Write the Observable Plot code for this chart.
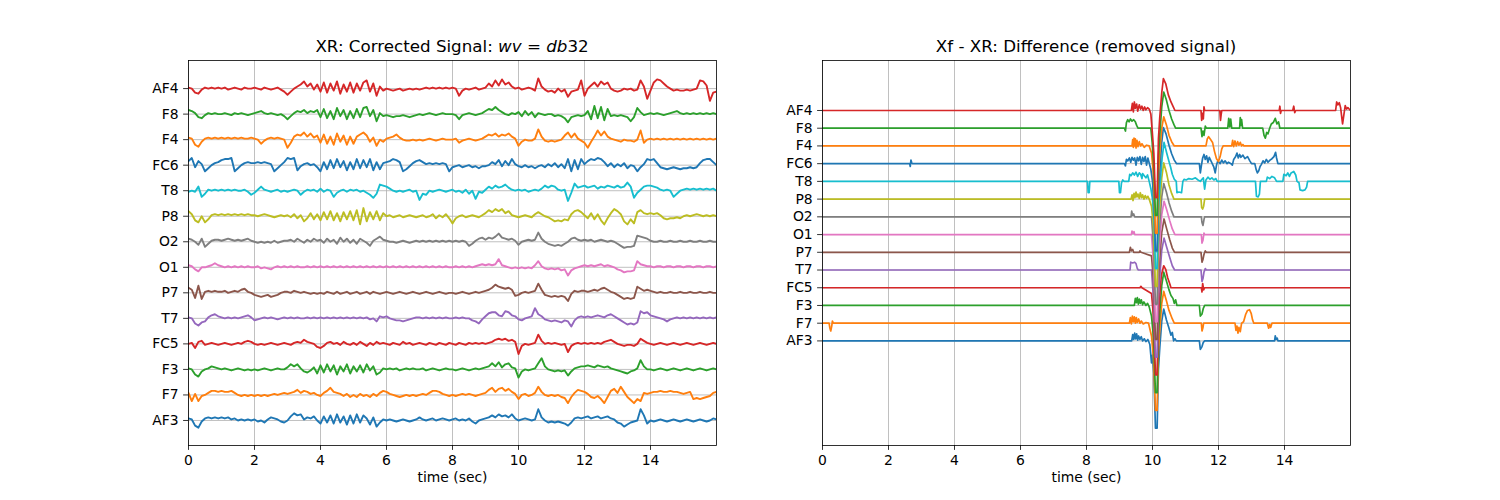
<!DOCTYPE html>
<html>
<head>
<meta charset="utf-8">
<script src="https://cdn.jsdelivr.net/npm/d3@7"></script>
<script src="https://cdn.jsdelivr.net/npm/@observablehq/plot@0.6"></script>
<style>
  body { margin: 0; background: white; }
  #wrap { display: flex; width: 1500px; height: 500px; }
</style>
</head>
<body>
<div id="wrap"></div>
<script>
// ---- Channels (bottom to top) ----
const names = ["AF3","F7","F3","FC5","T7","P7","O1","O2","P8","T8","FC6","F4","F8","AF4"];
const colors = ["#1f77b4","#ff7f0e","#2ca02c","#d62728","#9467bd","#8c564b","#e377c2","#7f7f7f","#bcbd22","#17becf","#1f77b4","#ff7f0e","#2ca02c","#d62728"];
const offsetStep = 25;
const xTicks = [0, 2, 4, 6, 8, 10, 12, 14];
const dt = 0.1; // sample spacing (sec) of the corrected-signal readings

// ---- Left panel: corrected signal, one reading every 0.1 s ----
const corrAF3 = [2,1,-5,-7,-1,2,3,2,3,2, 3,2,3,1,2,0,1,0,1,0, 1,-1,0,-2,1,3,2,1,-1,-2, 0,4,7,5,6,1,3,2,4,0, -3,4,-2,5,-3,6,-2,4,-4,5, -3,6,-2,5,2,-4,3,-6,-2,1, 0,1,0,-1,0,1,0,-1,0,1, 3,1,0,1,2,0,1,2,1,0, 1,2,0,1,0,2,-1,-3,0,1, 2,3,5,3,6,4,5,3,6,2, 0,1,2,1,0,1,11,3,0,-2, -1,-2,-1,-2,-3,-5,-2,2,3,2, 3,4,2,3,4,2,3,4,2,1, -2,-3,-6,-4,-2,-1,0,11,5,-3, 0,-1,0,1,0,-1,0,1,0,-1, 0,1,0,-1,0,1,0,-1,0,2,1];
const corrF7 = [2,-6,1,-6,-1,0,2,4,4,3, 4,3,3,4,2,0,-1,0,-1,0, -1,0,-1,0,-1,0,1,0,1,2, 1,2,3,5,2,4,3,1,2,0, -1,2,4,7,3,2,1,-1,1,-2, 0,-2,1,-1,0,-2,1,-1,2,4, 3,1,0,-1,-2,-1,0,-1,0,-1, 0,1,0,2,4,4,3,1,0,-1, 0,-1,0,1,0,1,0,-1,0,1, 2,5,7,3,6,7,4,6,3,1, -4,0,1,-1,0,2,8,3,0,-1, 0,-1,0,-2,-3,-8,-2,2,5,4, 3,1,-2,-3,-1,-4,-8,-2,4,6, 2,8,3,-2,-5,-8,-4,-6,2,1, 2,3,3,4,3,3,4,3,3,2, 1,2,3,-4,-3,-4,-3,-2,-1,2,3];
const corrF3 = [1,0,-5,-7,-2,0,1,3,2,1, 0,1,0,-1,0,1,0,-1,0,-1, 0,-1,0,1,0,-1,0,1,0,0, 2,5,3,5,1,-2,-3,-1,2,-4, 4,-3,5,-2,4,-5,3,-2,5,-4, 3,-2,4,-3,5,-1,3,-5,-3,1, 0,1,0,1,-1,0,1,0,1,0, 0,1,-1,0,1,0,-1,0,1,0, 0,-1,0,1,0,-1,0,1,0,1, 2,3,6,3,7,2,5,6,2,1, -8,-2,0,-1,0,1,6,11,3,0, -1,-2,-1,-2,-1,-6,-2,1,2,3, 3,4,3,2,4,3,2,3,1,0, -1,-2,-3,-4,-2,-1,1,9,3,0, 0,-1,0,1,0,-1,0,1,0,-1, 0,1,0,-1,0,1,0,-1,0,1,0];
const corrFC5 = [0,1,-4,2,3,-1,0,1,0,-1, 0,1,0,-1,0,1,0,2,3,2, 0,-1,0,-1,0,1,0,-1,0,1, 0,-1,1,2,1,4,2,1,0,-3, -4,-2,1,2,0,1,-1,2,0,-1, 1,-1,2,0,-2,1,-1,2,0,1, 0,-1,1,0,-1,2,0,1,-1,0, 1,0,-1,1,0,-1,1,0,-1,1, 0,-1,1,0,-1,1,0,1,0,1, 0,1,2,4,5,4,5,3,4,2, -10,-2,0,-1,0,1,9,3,0,1, 0,1,0,-1,0,-8,-2,0,1,0, 1,0,1,0,1,0,2,3,4,2, 0,-1,-2,-1,-1,-2,0,5,3,1, 0,-1,0,1,0,-1,0,1,0,-1, 0,1,0,-1,0,1,0,-1,0,1,0];
const corrT7 = [1,0,-5,-7,-4,-3,1,3,4,2, 1,0,1,0,1,0,1,2,3,1, -2,-1,0,1,0,1,0,-1,0,1, 0,1,0,1,0,0,1,0,1,0, 1,0,1,0,1,0,1,0,1,0, 1,0,1,0,1,-1,0,-3,2,1, 2,0,-1,-2,-2,-3,-2,-1,0,1, 1,0,1,0,1,0,1,0,1,0, 0,1,0,1,0,0,-2,-3,-5,-1, 2,5,6,6,3,2,7,6,3,2, -1,-2,0,1,2,10,4,2,-1,-2, -3,-2,-3,-4,-2,-3,-8,-2,1,2, 1,2,1,2,3,2,1,3,4,2, 0,-2,-4,-6,-5,-6,-4,7,5,6, 3,2,1,0,-1,-3,-1,0,1,0, 1,0,1,0,1,0,1,0,1,0,1];
const corrP7 = [5,3,-5,7,-6,1,2,1,2,1, 1,2,0,1,2,1,3,4,1,0, -2,-3,-4,-3,-2,-4,-3,-2,0,1, 1,0,2,1,0,1,0,-1,0,-1, 0,-1,1,0,-1,1,-1,0,1,-1, 0,1,-1,0,1,-1,1,0,-1,0, 1,0,-1,0,1,0,-1,0,1,0, -1,0,1,0,-1,0,1,0,-1,0, 0,-1,0,1,0,-1,0,1,0,1, 2,3,5,8,6,5,4,5,3,-3, -2,0,1,0,1,2,9,3,-2,-3, -4,-3,-4,-3,-4,-8,-1,2,1,2, 2,1,2,3,2,4,5,3,1,0, -2,-4,-6,-5,-6,-5,6,4,2,3, 2,1,0,1,0,0,1,0,0,1, 0,0,1,0,0,1,0,0,1,0,0];
const corrO1 = [2,1,-2,-4,0,0,1,2,4,2, 1,0,1,0,1,0,1,0,1,0, 0,1,-1,0,-1,-2,0,1,0,1, 0,1,0,1,0,0,1,0,1,0, 1,0,1,0,1,0,1,0,1,0, 1,0,1,0,1,0,1,0,1,0, 1,0,1,0,1,0,1,0,1,0, 1,0,1,0,1,0,1,0,1,0, 0,1,0,1,0,1,0,1,2,3, 2,3,2,3,8,2,1,0,-1,0, -1,0,-1,0,-1,2,6,1,-1,-2, -1,-2,-1,-3,-2,-8,-3,-1,0,1, 2,1,2,1,2,3,1,2,1,0, -2,-3,-5,-4,-4,-3,6,3,2,1, 1,0,1,1,0,1,1,0,1,1, 0,1,1,0,1,1,0,1,1,0,1];
const corrO2 = [3,2,0,-3,3,-5,-2,1,2,2, 1,2,3,2,1,2,1,2,3,1, 0,-1,0,-1,0,-1,1,-1,0,1, 1,2,0,3,1,-1,2,0,3,1, 2,-1,3,0,2,-2,4,0,3,-1, 2,-2,3,1,-1,-4,1,3,5,2, 1,0,0,-1,0,1,0,-1,0,1, 0,1,0,1,0,1,0,1,0,1, 0,1,0,1,0,-4,-2,1,3,4, 2,4,3,5,8,4,3,2,3,1, -3,0,1,2,1,2,9,3,0,-2, -3,-4,-3,-4,-2,0,3,4,2,1, 2,1,2,0,1,2,1,0,1,0, -2,-4,-6,-5,-5,-4,6,5,4,3, 1,0,0,1,0,0,1,0,0,1, 0,0,1,0,0,1,0,0,1,0,0];
const corrP8 = [5,2,-4,-6,0,-6,-3,1,2,1, 2,1,2,1,2,1,2,1,2,1, 1,0,1,2,1,0,-1,0,1,0, 1,-1,2,-2,1,-5,-2,3,-3,2, -4,4,-3,5,-4,3,-5,4,-3,5, -4,6,-8,8,-5,4,-3,5,-4,3, 0,1,-1,0,1,-1,0,1,0,-1, 0,1,-1,0,2,-2,1,-1,2,-2, -7,-2,0,1,-1,0,1,0,-1,1, 3,6,4,7,5,7,3,5,1,0, -1,0,1,0,-1,2,4,2,0,-1, -3,-5,-4,-5,-3,-4,2,5,6,4, 1,-2,3,-3,2,-4,-8,-2,3,7, 5,2,-5,-8,-3,-7,4,6,3,2, 3,2,3,1,-2,-3,-2,-2,-1,-2, 0,1,0,1,2,1,0,1,0,1,0];
const corrT8 = [-1,0,-1,4,-6,-3,1,0,1,0, 1,0,1,0,1,0,0,1,-1,-4, -2,1,4,1,0,-1,0,1,-1,0, -1,0,1,0,-4,-1,1,0,1,-1, 2,-1,1,0,-6,-2,0,1,-1,1, 0,1,-1,0,-2,-4,-7,-3,6,5, 4,2,0,-1,0,-1,0,1,-1,0, -9,-3,-4,0,-1,0,1,0,-1,0, 1,-1,0,-2,1,-3,0,-8,-1,-2, 1,4,2,5,3,4,6,3,1,0, 1,0,1,-1,0,1,0,2,5,3, 5,4,1,0,1,-10,-2,7,3,4, 5,3,4,5,2,4,3,5,4,3, 5,3,4,8,4,-7,-2,1,4,5, 5,4,3,1,0,1,0,-6,-3,0, 1,2,1,2,1,2,1,2,1,2,0];
const corrFC6 = [4,7,-2,4,1,-6,-3,0,2,3, 5,6,6,7,-6,-3,0,2,3,2, 2,3,2,3,2,1,-6,-3,0,3, 7,6,7,-5,-1,1,2,0,1,-2, -6,3,-4,5,-3,6,-2,4,-5,3, -4,6,-3,5,-2,6,-5,3,-4,2, 3,4,6,5,3,-6,-4,-1,2,4, 5,3,1,2,1,2,1,2,1,-6, -2,-1,0,-2,-1,0,-2,-1,-3,-1, -1,0,3,1,5,-1,4,0,6,1, -1,-2,0,-2,-1,-3,-1,0,-2,1, -1,2,-2,1,-3,6,-6,5,-4,6, 1,4,6,5,7,6,3,-1,2,-2, 1,-1,2,-3,0,-1,-6,-2,1,6, 5,6,2,-2,-3,-4,-3,-2,-3,-4, -3,-3,-2,-3,-2,2,5,6,6,3,0];
const corrF4 = [2,1,-5,-7,-2,1,2,1,2,1, 2,1,2,1,2,1,2,1,1,2, 1,0,-4,-1,1,2,1,2,1,0, -8,-3,3,5,4,7,3,6,2,4, -3,5,-4,3,-5,6,-2,4,-5,3, -4,3,5,7,4,-2,2,-6,0,-2, 1,2,3,5,2,0,-1,-1,0,-1, 0,-1,0,1,0,-1,0,1,0,0, 0,1,-3,-1,0,1,0,-1,0,1, 3,5,4,6,3,5,4,6,3,1, -6,-2,0,-1,-1,1,10,3,-1,-2, -1,-2,-1,0,4,7,2,6,1,-1, -3,-8,-2,3,9,4,8,3,1,0, -1,-2,0,-1,-1,-2,0,9,-3,0, 1,0,1,0,1,0,1,0,1,0, 1,0,1,0,1,0,1,0,1,0,1];
const corrF8 = [4,3,1,-3,-4,-1,1,0,1,0, 0,1,0,-1,1,0,1,0,-1,0, 1,2,3,1,0,1,0,-1,0,-2, -5,-2,1,3,2,4,1,3,2,4, -3,5,-4,3,-5,6,-2,4,-5,3, -4,5,-3,6,7,-2,4,-7,1,-2, -1,-2,-3,-2,-2,-1,-2,-3,-2,-1, 0,-1,0,1,0,-1,0,1,0,0, 0,-1,-5,-1,0,1,0,-1,0,1, 3,5,4,7,4,2,0,-1,1,0, 2,-2,3,-1,2,-3,1,0,-1,0, 0,-2,-1,-2,-4,-8,-3,-2,-1,-2, -1,3,-5,8,-4,7,-6,5,-2,-1, -2,-1,-2,-3,-7,-3,6,2,-1,0, 1,0,1,0,-1,0,1,2,3,1, 0,1,0,1,0,1,0,1,0,1,0];
const corrAF4 = [1,0,-4,-5,-1,1,0,1,0,1, 0,1,-1,0,1,0,-1,1,0,0, 1,0,-1,1,0,-1,0,1,-1,-3, -6,-3,0,2,4,7,2,5,-1,4, -3,6,-4,5,-2,7,-5,4,-3,6, -4,5,-2,6,8,-3,5,-7,2,-2, 0,-1,-2,-1,0,-2,-1,0,-1,0, -1,0,1,0,1,0,1,0,1,0, 1,0,-7,-2,0,-1,0,1,-1,0, 1,5,2,8,3,9,4,6,2,0, 1,-1,0,1,0,-2,10,2,-1,-3, -2,-4,0,-3,-1,-8,-3,-2,-1,8, -7,0,3,6,2,7,4,6,0,-2, -3,-2,0,-1,0,-2,-1,8,2,-10, -2,6,9,8,5,2,0,-2,-1,-2, -2,-1,-2,-1,0,8,7,3,-12,-4,-3];
const corrected = [corrAF3, corrF7, corrF3, corrFC5, corrT7, corrP7, corrO1, corrO2, corrP8, corrT8, corrFC6, corrF4, corrF8, corrAF4];

// ---- Right panel: removed signal, [time, value] readings ----
const diffAF3 = [[0,0],[9.37,0],[9.4,9],[9.43,2],[9.46,11],[9.49,3],[9.52,10],[9.55,1],[9.58,7],[9.62,2],[9.66,6],[9.7,0],[9.75,3],[9.8,-1],[9.86,2],[9.92,-5],[9.97,-31],[10.0,-20],[10.04,-45],[10.09,-123],[10.14,-123],[10.18,-40],[10.22,-10],[10.28,28],[10.34,45],[10.42,30],[10.5,18],[10.56,8],[10.6,12],[10.64,0],[10.68,3],[10.72,0],[11.42,0],[11.45,-12],[11.5,-8],[11.54,-2],[11.58,0],[13.7,0],[13.72,7],[13.75,2],[13.78,4],[13.8,0],[16,0]];
const diffF7 = [[0,0],[0.2,0],[0.22,-6],[0.25,-11],[0.28,-4],[0.3,3],[0.33,0],[9.3,0],[9.33,8],[9.36,-1],[9.39,10],[9.42,2],[9.45,9],[9.48,0],[9.51,8],[9.54,1],[9.58,6],[9.62,0],[9.66,3],[9.72,-1],[9.8,1],[9.88,0],[9.97,-18],[10.03,-50],[10.09,-123],[10.14,-123],[10.18,-40],[10.22,-10],[10.28,28],[10.34,45],[10.42,32],[10.5,18],[10.6,6],[10.66,0],[11.48,0],[11.5,-11],[11.53,-6],[11.55,0],[12.5,0],[12.53,-10],[12.56,-4],[12.59,-14],[12.62,-6],[12.66,-12],[12.7,0],[12.76,2],[12.82,12],[12.88,18],[12.94,19],[12.99,14],[13.03,5],[13.07,0],[13.48,0],[13.52,-7],[13.55,-2],[13.58,-6],[13.62,0],[16,0]];
const diffF3 = [[0,0],[9.45,0],[9.48,10],[9.51,4],[9.54,11],[9.57,2],[9.6,9],[9.63,3],[9.66,8],[9.7,1],[9.74,5],[9.8,0],[9.85,3],[9.9,-2],[9.97,-15],[10.03,-45],[10.09,-123],[10.14,-123],[10.18,-40],[10.22,-10],[10.28,28],[10.34,47],[10.42,35],[10.5,22],[10.56,14],[10.62,10],[10.66,3],[10.7,8],[10.74,0],[11.42,0],[11.45,-15],[11.5,-12],[11.54,-4],[11.58,0],[16,0]];
const diffFC5 = [[0,0],[9.62,0],[9.65,2],[9.68,0],[9.97,-8],[10.03,-40],[10.09,-123],[10.14,-123],[10.18,-40],[10.22,-10],[10.27,18],[10.34,31],[10.4,26],[10.46,14],[10.52,6],[10.56,0],[11.48,0],[11.5,-6],[11.52,6],[11.55,-3],[11.58,0],[16,0]];
const diffT7 = [[0,0],[9.32,0],[9.34,11],[9.4,10],[9.46,11],[9.5,9],[9.54,2],[9.57,0],[9.97,0],[10.03,-40],[10.09,-123],[10.14,-123],[10.18,-40],[10.22,-10],[10.28,28],[10.35,45],[10.43,32],[10.52,18],[10.6,6],[10.67,0],[11.47,0],[11.5,-16],[11.53,-12],[11.56,-3],[11.6,2],[11.63,0],[16,0]];
const diffP7 = [[0,0],[9.3,0],[9.33,7],[9.36,2],[9.4,4],[9.43,0],[9.6,0],[9.62,2],[9.65,0],[9.97,-5],[10.03,-40],[10.09,-123],[10.14,-123],[10.18,-40],[10.22,-10],[10.28,28],[10.35,47],[10.43,33],[10.52,18],[10.6,6],[10.67,0],[11.47,0],[11.5,-14],[11.53,-10],[11.56,-3],[11.6,2],[11.63,0],[16,0]];
const diffO1 = [[0,0],[9.36,0],[9.38,5],[9.41,2],[9.44,4],[9.46,0],[9.97,0],[10.03,-40],[10.09,-123],[10.14,-123],[10.18,-40],[10.22,-10],[10.28,28],[10.35,47],[10.43,35],[10.52,20],[10.6,8],[10.68,0],[11.48,0],[11.5,-12],[11.53,-8],[11.56,2],[11.58,0],[16,0]];
const diffO2 = [[0,0],[9.35,0],[9.37,8],[9.4,2],[9.43,4],[9.46,0],[9.97,0],[10.03,-40],[10.09,-123],[10.14,-123],[10.18,-40],[10.22,-10],[10.28,28],[10.34,47],[10.42,35],[10.5,20],[10.58,8],[10.65,0],[11.48,0],[11.5,-8],[11.53,-12],[11.56,-4],[11.58,0],[16,0]];
const diffP8 = [[0,0],[9.35,0],[9.38,6],[9.41,-2],[9.44,8],[9.47,2],[9.5,10],[9.53,3],[9.56,7],[9.6,1],[9.63,9],[9.67,2],[9.7,6],[9.74,0],[9.78,5],[9.82,1],[9.86,4],[9.9,0],[9.97,-10],[10.03,-40],[10.09,-123],[10.14,-123],[10.18,-40],[10.22,-10],[10.28,30],[10.34,51],[10.42,38],[10.5,20],[10.58,8],[10.65,0],[11.47,0],[11.49,-12],[11.52,-14],[11.55,-10],[11.58,0],[16,0]];
const diffT8 = [[0,0],[8.03,0],[8.05,-16],[8.08,-16],[8.1,0],[8.98,0],[9.0,-16],[9.03,-16],[9.06,-2],[9.1,2],[9.14,0],[9.28,0],[9.31,10],[9.35,8],[9.4,12],[9.45,9],[9.5,13],[9.55,7],[9.6,12],[9.64,10],[9.68,4],[9.7,11],[9.75,8],[9.8,5],[9.85,9],[9.9,0],[9.95,-10],[10.0,-25],[10.05,-55],[10.09,-123],[10.14,-123],[10.18,-40],[10.22,-10],[10.29,32],[10.35,55],[10.43,40],[10.5,28],[10.55,20],[10.6,10],[10.66,3],[10.72,0],[10.74,-16],[10.8,-15],[10.88,-16],[10.92,0],[10.96,3],[11.02,2],[11.1,4],[11.2,3],[11.3,5],[11.38,2],[11.45,0],[11.5,3],[11.54,5],[11.58,-11],[11.62,2],[11.68,6],[11.74,3],[11.8,5],[11.86,2],[11.92,4],[11.96,0],[13.12,0],[13.15,-21],[13.2,-22],[13.24,-18],[13.27,0],[13.45,0],[13.48,6],[13.55,4],[13.62,7],[13.7,5],[13.76,0],[13.95,0],[13.98,10],[14.05,8],[14.1,12],[14.15,7],[14.2,12],[14.28,14],[14.34,9],[14.38,0],[14.44,-2],[14.47,-12],[14.55,-13],[14.62,-12],[14.67,-8],[14.7,0],[16,0]];
const diffFC6 = [[0,0],[2.64,0],[2.66,-4],[2.68,5],[2.7,2],[2.72,0],[9.15,0],[9.18,-3],[9.21,6],[9.25,4],[9.3,8],[9.34,2],[9.38,9],[9.42,5],[9.46,8],[9.5,-2],[9.54,9],[9.58,4],[9.62,10],[9.66,-1],[9.7,9],[9.74,3],[9.78,10],[9.82,-2],[9.86,8],[9.9,1],[9.95,-8],[10.0,-25],[10.05,-60],[10.09,-123],[10.14,-123],[10.18,-40],[10.22,-10],[10.28,30],[10.33,51],[10.41,42],[10.5,26],[10.58,14],[10.66,5],[10.73,0],[11.42,0],[11.45,-13],[11.48,-3],[11.52,8],[11.56,13],[11.6,6],[11.64,11],[11.68,2],[11.72,9],[11.76,5],[11.8,1],[11.86,-5],[11.9,-13],[11.94,-2],[11.98,4],[12.05,0],[12.1,5],[12.15,1],[12.2,4],[12.26,0],[12.3,2],[12.38,0],[12.42,-2],[12.46,6],[12.52,10],[12.56,15],[12.6,8],[12.64,13],[12.68,9],[12.74,12],[12.8,7],[12.88,10],[12.95,4],[13.0,0],[13.1,0],[13.14,-8],[13.18,-13],[13.22,-10],[13.26,-4],[13.3,-1],[13.35,4],[13.4,1],[13.45,6],[13.5,2],[13.56,5],[13.62,7],[13.68,10],[13.73,16],[13.76,8],[13.8,0],[16,0]];
const diffF4 = [[0,0],[9.38,0],[9.4,9],[9.42,-2],[9.44,11],[9.46,0],[9.48,10],[9.5,-3],[9.53,8],[9.56,-1],[9.6,6],[9.64,0],[9.68,3],[9.75,-2],[9.82,1],[9.9,0],[9.97,-10],[10.03,-40],[10.09,-123],[10.14,-123],[10.18,-40],[10.22,-10],[10.28,25],[10.34,41],[10.42,30],[10.5,15],[10.58,6],[10.66,0],[11.62,0],[11.66,10],[11.7,13],[11.76,9],[11.82,5],[11.88,-8],[11.94,-18],[12,-22],[12.05,-15],[12.1,-4],[12.14,0],[12.4,0],[12.43,8],[12.46,-1],[12.5,7],[12.54,0],[12.58,6],[12.62,1],[12.66,5],[12.7,0],[12.74,2],[12.77,0],[16,0]];
const diffF8 = [[0,0],[9.15,0],[9.18,-4],[9.21,8],[9.25,12],[9.29,9],[9.33,13],[9.38,10],[9.43,12],[9.48,9],[9.52,4],[9.56,0],[9.95,0],[9.99,-20],[10.04,-55],[10.09,-123],[10.14,-123],[10.18,-40],[10.22,-10],[10.28,30],[10.34,51],[10.42,40],[10.5,25],[10.58,13],[10.65,5],[10.7,0],[11.47,0],[11.5,-12],[11.53,-4],[11.56,-10],[11.6,3],[11.63,0],[12.28,0],[12.31,14],[12.34,2],[12.37,13],[12.4,0],[12.64,0],[12.66,15],[12.68,4],[12.7,12],[12.73,0],[13.34,0],[13.38,-10],[13.42,-14],[13.46,-6],[13.5,-8],[13.55,0],[13.6,6],[13.66,8],[13.72,14],[13.77,6],[13.82,9],[13.86,0],[16,0]];
const diffAF4 = [[0,0],[9.36,0],[9.39,10],[9.42,-2],[9.45,12],[9.48,3],[9.52,9],[9.55,-1],[9.6,8],[9.64,2],[9.68,6],[9.72,0],[9.76,5],[9.8,1],[9.85,4],[9.9,2],[9.95,-5],[9.99,-28],[10.04,-60],[10.09,-123],[10.14,-123],[10.18,-40],[10.22,-10],[10.28,25],[10.33,45],[10.4,38],[10.48,22],[10.56,12],[10.63,5],[10.68,0],[11.47,0],[11.49,-14],[11.52,-4],[11.54,-12],[11.56,5],[11.58,0],[12.04,0],[12.06,-14],[12.08,-6],[12.1,0],[13.84,0],[13.86,6],[13.88,-4],[13.9,0],[14.25,0],[14.28,6],[14.31,-3],[14.34,0],[15.55,0],[15.58,12],[15.62,8],[15.66,11],[15.7,4],[15.76,-19],[15.8,-6],[15.84,7],[15.88,2],[15.92,4],[16,0]];
const removed = [diffAF3, diffF7, diffF3, diffFC5, diffT7, diffP7, diffO1, diffO2, diffP8, diffT8, diffFC6, diffF4, diffF8, diffAF4];

const offsets = names.map((_, k) => k * offsetStep);
const FONT = "DejaVu Sans";

function panel({lineMarks, yDomain, marginLeft, marginRight, title}) {
  const svg = Plot.plot({
    width: 750, height: 500,
    marginLeft, marginRight, marginTop: 60, marginBottom: 55,
    style: {fontFamily: FONT, fontSize: "13.9px", color: "black", background: "white"},
    x: {domain: [0, 16]},
    y: {domain: yDomain},
    marks: [
      Plot.gridX(xTicks, {stroke: "#b0b0b0", strokeOpacity: 1, strokeWidth: 0.8}),
      Plot.gridY(offsets, {stroke: "#b0b0b0", strokeOpacity: 1, strokeWidth: 0.8}),
      ...lineMarks,
      Plot.frame({stroke: "black", strokeWidth: 0.8}),
      Plot.axisX({ticks: xTicks, tickFormat: d => String(d), tickSize: 4.9, tickPadding: 4.9, label: null, strokeWidth: 0.8}),
      Plot.axisY({ticks: offsets, tickFormat: d => names[Math.round(d / offsetStep)], tickSize: 4.9, tickPadding: 4.9, label: null, strokeWidth: 0.8}),
      Plot.text(["time (sec)"], {frameAnchor: "bottom", dy: 36, fontSize: 13.9, fill: "black"})
    ]
  });
  const cx = marginLeft + (750 - marginLeft - marginRight) / 2;
  const t = d3.select(svg).append("text")
    .attr("x", cx).attr("y", 52)
    .attr("text-anchor", "middle")
    .attr("font-family", FONT).attr("font-size", "16.7px").attr("fill", "black");
  title(t);
  return svg;
}

const left = panel({
  lineMarks: corrected.map((vals, k) => Plot.line(vals, {
    x: (d, i) => i * dt, y: d => d + k * offsetStep,
    stroke: colors[k], strokeWidth: 1.9, clip: true
  })),
  yDomain: [-24.5, 352.5], marginLeft: 188, marginRight: 34,
  title: t => {
    t.append("tspan").text("XR: Corrected Signal: ");
    t.append("tspan").attr("font-style", "italic").text("wv");
    t.append("tspan").text(" = ");
    t.append("tspan").attr("font-style", "italic").text("db");
    t.append("tspan").text("32");
  }
});

const right = panel({
  lineMarks: removed.map((pts, k) => Plot.line(pts, {
    x: d => d[0], y: d => d[1] + k * offsetStep,
    stroke: colors[k], strokeWidth: 1.7, clip: true
  })),
  yDomain: [-147.5, 395.5], marginLeft: 72, marginRight: 150,
  title: t => t.text("Xf - XR: Difference (removed signal)")
});

document.getElementById("wrap").append(left, right);
</script>
</body>
</html>
